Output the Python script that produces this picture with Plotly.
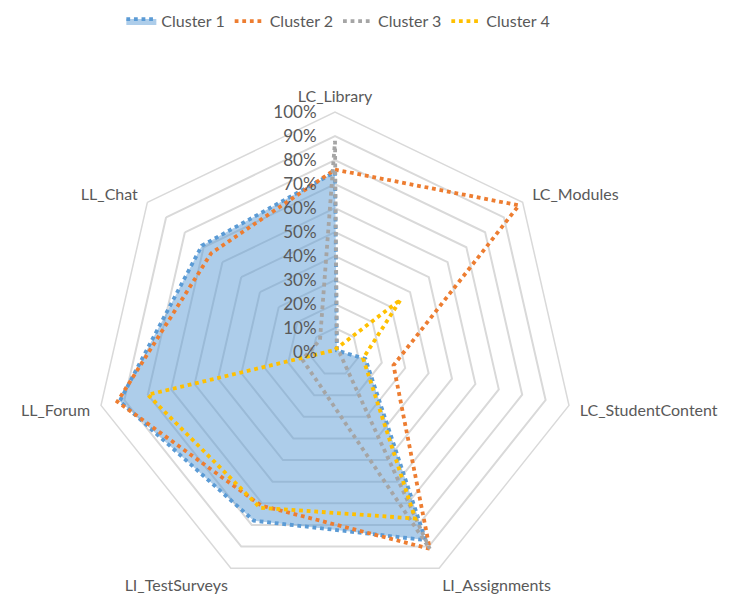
import plotly.graph_objects as go

# Usage profile per cluster (share of students, 0-1)
categories = ["LC_Library", "LC_Modules", "LC_StudentContent", "LI_Assignments",
              "LI_TestSurveys", "LL_Forum", "LL_Chat"]
cluster_1 = [0.75, 0.01, 0.13, 0.87, 0.78, 0.92, 0.71]
cluster_2 = [0.76, 0.98, 0.25, 0.91, 0.71, 0.93, 0.66]
cluster_3 = [0.88, 0.01, 0.02, 0.91, 0.15, 0.14, 0.08]
cluster_4 = [0.01, 0.35, 0.12, 0.77, 0.72, 0.80, 0.01]

series_names = ["Cluster 1", "Cluster 2", "Cluster 3", "Cluster 4"]
series_values = [cluster_1, cluster_2, cluster_3, cluster_4]
tick_values = [i / 10 for i in range(11)]
tick_labels = [f"{i * 10}%" for i in range(11)]

colors = ["#5B9BD5", "#ED7D31", "#A5A5A5", "#FFC000"]
TEXT = "#595959"
GRID = "#D9D9D9"
CLEAR = "rgba(0,0,0,0)"
FONT = "Lato, 'Open Sans', sans-serif"

# Side labels get a little breathing room from the outer ring
NB = "\u00a0"
pad = {"LC_Modules": "l", "LC_StudentContent": "l", "LL_Forum": "r", "LL_Chat": "r"}
category_text = [
    (NB + c) if pad.get(c) == "l" else (c + NB) if pad.get(c) == "r" else c
    for c in categories
]

fig = go.Figure()
for i, (name, vals) in enumerate(zip(series_names, series_values)):
    r = vals + vals[:1]
    theta = categories + categories[:1]
    kw = {}
    if i == 0:
        kw = dict(fill="toself", fillcolor="rgba(91,155,213,0.5)")
    fig.add_trace(go.Scatterpolar(
        r=r, theta=theta, name=name, mode="lines",
        line=dict(color=colors[i], width=3.8, dash="dot"),
        **kw,
    ))

W, H = 742, 597
cx, cy, rad = 335, 352, 240
fig.update_layout(
    width=W, height=H,
    margin=dict(l=0, r=0, t=0, b=0),
    paper_bgcolor="white",
    font=dict(family=FONT, size=16, color=TEXT),
    showlegend=True,
    legend=dict(orientation="h", x=0.456, xanchor="center", y=0.993, yanchor="top",
                font=dict(size=16, color=TEXT), itemwidth=30),
    polar=dict(
        domain=dict(x=[(cx - rad) / W, (cx + rad) / W],
                    y=[1 - (cy + rad) / H, 1 - (cy - rad) / H]),
        gridshape="linear",
        bgcolor="white",
        angularaxis=dict(direction="clockwise", rotation=90, showgrid=False,
                         showline=True, linecolor=GRID, linewidth=1.5,
                         ticks="outside", ticklen=3, tickcolor=CLEAR,
                         tickmode="array", tickvals=categories,
                         ticktext=category_text,
                         tickfont=dict(size=16, color=TEXT)),
        radialaxis=dict(range=[0, 1], tickvals=tick_values, ticktext=tick_labels,
                        angle=90, side="counterclockwise", tickangle=90,
                        showline=False, ticks="outside", ticklen=12, tickcolor=CLEAR,
                        gridcolor=GRID, gridwidth=1.5,
                        tickfont=dict(size=17, color=TEXT)),
    ),
)

fig.write_html("out.html")
